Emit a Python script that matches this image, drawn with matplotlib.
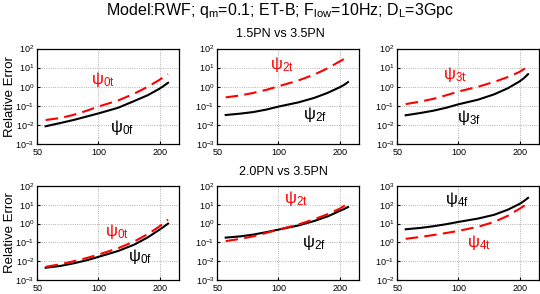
import matplotlib

matplotlib.use("Agg")

import matplotlib.pyplot as plt
from matplotlib.ticker import LogLocator

plt.rcParams.update(
    {
        "font.family": ["Liberation Sans", "DejaVu Sans"],
        "mathtext.fontset": "custom",
        "mathtext.rm": "Liberation Sans",
        "mathtext.it": "Liberation Sans:italic",
        "font.size": 8,
        "xtick.labelsize": 6.5,
        "ytick.labelsize": 6.5,
        "axes.linewidth": 0.9,
    }
)

X = [55, 65, 75, 87, 100, 125, 150, 175, 200, 210, 220]

# top row: 1.5PN vs 3.5PN  (F = black solid, T = red dashed)
P1_F = [0.0085, 0.0126, 0.0178, 0.027, 0.040, 0.079, 0.178, 0.36, 0.79, 1.12, 1.6]
P1_T = [0.018, 0.023, 0.033, 0.054, 0.091, 0.19, 0.43, 1.0, 2.3, 3.3, 4.5]
P2_F = [0.033, 0.039, 0.047, 0.063, 0.091, 0.15, 0.26, 0.48, 0.93, 1.23, 1.74]
P2_T = [0.275, 0.35, 0.47, 0.68, 1.05, 2.1, 4.3, 9.3, 21, 28, 38]
P3_F = [0.032, 0.042, 0.055, 0.079, 0.12, 0.21, 0.40, 0.83, 1.9, 2.8, 4.5]
P3_T = [0.123, 0.166, 0.23, 0.355, 0.56, 1.0, 1.78, 3.2, 6.0, 8.3, 12]

# bottom row: 2.0PN vs 3.5PN
P4_F = [0.0045, 0.0056, 0.0076, 0.011, 0.017, 0.035, 0.076, 0.186, 0.48, 0.69, 1.0]
P4_T = [0.005, 0.0069, 0.0098, 0.0145, 0.0224, 0.049, 0.112, 0.275, 0.72, 1.07, 1.62]
P5_F = [0.18, 0.21, 0.26, 0.35, 0.48, 0.79, 1.38, 2.45, 4.7, 5.9, 7.6]
P5_T = [0.117, 0.155, 0.21, 0.32, 0.48, 0.89, 1.7, 3.2, 6.2, 8.5, 12.3]
P6_F = [5.0, 5.9, 7.2, 9.3, 12.3, 18.6, 29.5, 55, 112, 158, 234]
P6_T = [1.55, 1.95, 2.45, 3.16, 4.1, 6.8, 12.3, 26, 62, 87, 123]

# curve labels: (subscript, x, y, colour)
LABELS = [
    [("0t", 92, 2.3, "red"), ("0f", 114, 0.0072, "black")],
    [("2t", 91, 14, "red"), ("2f", 132, 0.037, "black")],
    [("3t", 84, 4.6, "red"), ("3f", 98, 0.024, "black")],
    [("0t", 108, 0.4, "red"), ("0f", 140, 0.018, "black")],
    [("2t", 107, 21, "red"), ("2f", 131, 0.1, "black")],
    [("4f", 86, 200, "black"), ("4t", 110, 1.0, "red")],
]

SERIES = [(P1_F, P1_T), (P2_F, P2_T), (P3_F, P3_T),
          (P4_F, P4_T), (P5_F, P5_T), (P6_F, P6_T)]
YLIMS = [(1e-3, 1e2)] * 5 + [(1e-2, 1e3)]

fig = plt.figure(figsize=(5.4, 2.94), dpi=100)

lefts = [0.069, 0.4024, 0.7357]
bottoms = [0.5102, 0.0476]
heights = [0.3248, 0.3197]
width = 0.263

for i, (f_vals, t_vals) in enumerate(SERIES):
    row, col = divmod(i, 3)
    ax = fig.add_axes([lefts[col], bottoms[row], width, heights[row]])
    ax.set_xscale("log")
    ax.set_yscale("log")
    ax.plot(X, f_vals, color="black", lw=1.5)
    ax.plot(X, t_vals, color="red", lw=1.5, dashes=(6, 3))
    ax.set_xlim(50, 250)
    ax.set_ylim(*YLIMS[i])
    ax.set_xticks([50, 100, 200])
    ax.set_xticklabels(["50", "100", "200"])
    ax.yaxis.set_major_locator(LogLocator(base=10, numticks=12))
    ax.minorticks_off()
    ax.tick_params(direction="in", length=2, pad=2)
    ax.tick_params(axis="x", pad=3)
    ax.grid(True, color="#999999", linestyle=":", linewidth=0.6)
    for txt, lx, ly, c in LABELS[i]:
        ax.text(lx, ly, r"$\mathrm{ψ}_{\mathrm{%s}}$" % txt, color=c,
                fontsize=12, va="center", ha="left")
    if col == 0:
        ax.set_ylabel("Relative Error", fontsize=9.5, va="center")
        ax.yaxis.set_label_coords(-0.19, 0.5)

fig.text(0.518, 0.965,
         r"Model:RWF; q$_\mathrm{m}$=0.1; ET-B; F$_\mathrm{low}$=10Hz; D$_\mathrm{L}$=3Gpc",
         ha="center", va="center", fontsize=11.5)
fig.text(0.519, 0.884, "1.5PN vs 3.5PN", ha="center", va="center", fontsize=9)
fig.text(0.525, 0.415, "2.0PN vs 3.5PN", ha="center", va="center", fontsize=9)

fig.savefig("out.png", dpi=100)
